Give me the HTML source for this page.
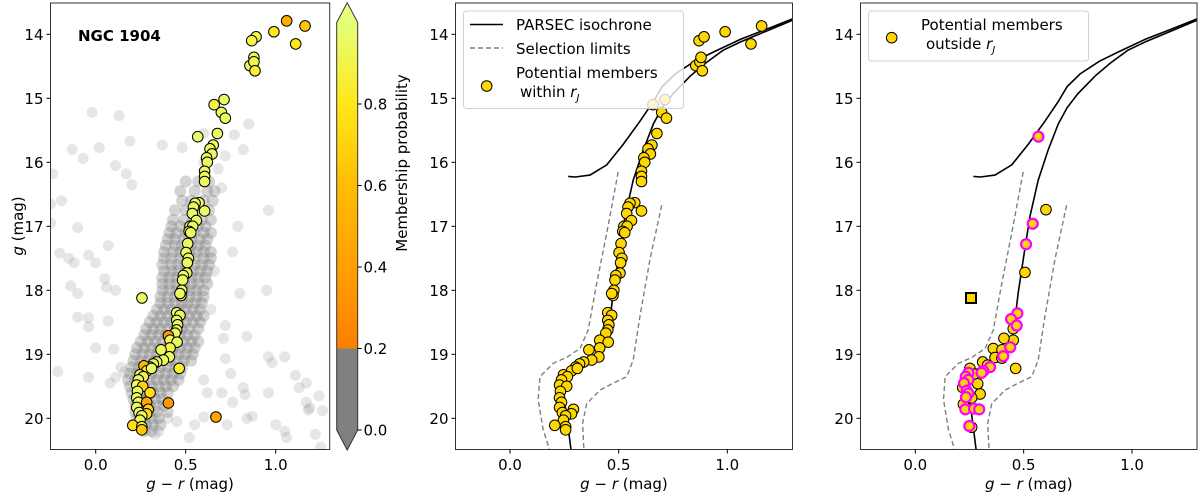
<!DOCTYPE html>
<html><head><meta charset="utf-8">
<style>
html,body{margin:0;padding:0;background:#fff;}
svg{display:block;font-family:"DejaVu Sans","Liberation Sans",sans-serif;}
</style></head>
<body>
<svg id="fig" width="1200" height="495" viewBox="0 0 1200 495" xmlns="http://www.w3.org/2000/svg">
<defs>
<linearGradient id="cbgrad" x1="0" y1="1" x2="0" y2="0">
<stop offset="0" stop-color="#fc7f00"/><stop offset="0.25" stop-color="#ffa000"/><stop offset="0.5" stop-color="#ffbd00"/><stop offset="0.75" stop-color="#ffe81a"/><stop offset="1" stop-color="#e4ff7a"/>
</linearGradient>
<clipPath id="c1"><rect x="50.5" y="3" width="280" height="446.5"/></clipPath>
<clipPath id="c2"><rect x="455.5" y="3" width="337" height="446.5"/></clipPath>
<clipPath id="c3"><rect x="860.5" y="3" width="337" height="446.5"/></clipPath>
</defs>
<g id="root"></g>
</svg>
<script>
// ---- data ----
const isoMainC=[0.281,0.261,0.238,0.245,0.291,0.337,0.391,0.429,0.452,0.475,0.503,0.529,0.567,0.613,0.66,0.70,0.75,0.83,0.90,0.98,1.06,1.18,1.30];
const isoMainG=[20.5,19.97,19.45,19.30,19.22,19.15,19.05,18.92,18.69,18.04,17.41,16.85,16.28,15.81,15.40,15.15,14.93,14.65,14.45,14.25,14.12,13.95,13.78];
const isoUpC=[0.268,0.30,0.368,0.445,0.521,0.598,0.66,0.70,0.76,0.85,0.94,1.06,1.18,1.30];
const isoUpG=[16.22,16.23,16.20,16.04,15.72,15.36,15.05,14.82,14.62,14.42,14.27,14.08,13.92,13.76];
const limLC=[0.498,0.445,0.399,0.360,0.322,0.260,0.199,0.138,0.130,0.153,0.181];
const limLG=[16.15,17.11,17.89,18.62,18.91,19.05,19.14,19.35,19.71,20.18,20.48];
const limRC=[0.698,0.644,0.598,0.567,0.537,0.47,0.414,0.353,0.334,0.34];
const limRG=[16.67,17.52,18.41,19.09,19.35,19.46,19.56,19.77,20.08,20.48];
const fieldC=[-0.02,0.13,-0.13,0.02,0.19,-0.07,-0.24,0.11,0.17,0.2,-0.25,-0.19,-0.1,-0.25,0.07,-0.2,-0.15,-0.12,-0.04,0.0,0.05,0.06,-0.14,-0.1,0.11,-0.1,-0.04,-0.04,0.07,0.0,0.1,-0.21,-0.04,0.08,0.11,0.14,0.16,0.37,0.48,0.6,0.77,0.82,0.72,0.85,0.6,0.96,0.79,0.76,0.8,0.95,0.84,0.72,0.71,0.96,0.98,1.05,1.11,1.13,1.17,0.96,0.82,0.83,0.76,1.17,1.19,1.24,1.26,1.18,0.87,0.84,0.73,1.0,1.05,1.06,1.22,1.25,0.6,0.55,0.45,0.7,0.75,0.72,0.6,0.62,0.35,0.33,0.52,0.4,0.68,0.7,0.66,0.64];
const fieldG=[15.22,15.27,15.8,15.77,15.67,15.94,16.18,16.05,16.18,16.35,16.65,16.6,17.02,16.95,17.3,17.42,17.5,17.57,17.45,17.57,17.82,17.95,17.93,18.05,18.0,18.42,18.43,18.57,18.48,18.9,18.92,19.27,19.36,19.45,19.36,19.2,19.28,15.73,15.77,15.55,15.57,15.8,15.9,15.4,16.0,16.75,17.0,17.4,18.05,18.0,18.72,18.55,18.75,19.04,19.13,19.04,19.33,19.52,19.45,19.6,19.52,19.63,19.75,19.75,19.84,19.65,19.88,19.87,19.97,20.0,20.1,20.1,20.2,20.3,20.25,20.45,19.98,20.1,20.05,19.6,19.3,19.07,19.4,19.6,20.2,20.25,20.3,20.0,16.1,16.4,17.7,18.3];
const cloudRowsG=[16.3,16.45,16.6,16.75,16.9,17.0,17.1,17.2,17.3,17.4,17.5,17.6,17.7,17.8,17.9,18.0,18.1,18.2,18.3,18.4,18.5,18.6,18.7,18.8,18.9,19.0,19.1,19.2,19.3,19.4,19.5,19.6,19.7,19.8,19.9,20.0,20.1,20.2];
const cloudRowsC=[[0.5,0.57,0.63],[0.47,0.55,0.62,0.66],[0.48,0.53,0.6,0.65],[0.44,0.5,0.56,0.63],[0.43,0.49,0.54,0.59,0.64],[0.42,0.47,0.52,0.57,0.61],[0.41,0.45,0.5,0.55,0.6,0.64],[0.4,0.44,0.49,0.53,0.58,0.62],[0.39,0.44,0.48,0.53,0.57,0.61],[0.38,0.43,0.47,0.52,0.56,0.6,0.64],[0.38,0.42,0.47,0.51,0.55,0.6,0.64],[0.37,0.42,0.46,0.5,0.55,0.59,0.63],[0.38,0.42,0.46,0.5,0.54,0.58,0.62],[0.37,0.41,0.45,0.49,0.53,0.57,0.61],[0.37,0.41,0.45,0.49,0.53,0.57,0.62],[0.37,0.41,0.45,0.49,0.52,0.56,0.6],[0.36,0.4,0.44,0.48,0.52,0.56,0.6],[0.36,0.4,0.44,0.48,0.51,0.55,0.59],[0.34,0.38,0.42,0.46,0.5,0.54,0.58],[0.32,0.36,0.4,0.44,0.48,0.52,0.56,0.6],[0.3,0.34,0.38,0.42,0.46,0.5,0.54,0.58],[0.28,0.32,0.36,0.4,0.44,0.48,0.52,0.57],[0.27,0.31,0.35,0.39,0.43,0.47,0.51,0.55],[0.25,0.29,0.33,0.37,0.41,0.45,0.49,0.53,0.57],[0.23,0.27,0.31,0.35,0.39,0.43,0.47,0.51,0.55],[0.22,0.26,0.3,0.34,0.38,0.42,0.46,0.5,0.54],[0.21,0.25,0.29,0.33,0.37,0.41,0.45,0.49,0.53],[0.2,0.24,0.28,0.32,0.36,0.4,0.44,0.48],[0.19,0.23,0.27,0.31,0.35,0.39,0.43,0.47],[0.18,0.22,0.26,0.3,0.34,0.38,0.42,0.46],[0.19,0.23,0.27,0.31,0.35,0.39,0.43],[0.2,0.24,0.28,0.32,0.36,0.4],[0.21,0.25,0.29,0.33,0.37],[0.22,0.26,0.3,0.34,0.38],[0.22,0.26,0.3,0.34,0.4],[0.23,0.27,0.31,0.35],[0.24,0.28,0.32,0.36],[0.27,0.31]];
const memC=[1.061,1.163,0.99,1.111,0.891,0.867,0.857,0.879,0.879,0.885,0.713,0.658,0.698,0.72,0.676,0.567,0.653,0.635,0.646,0.616,0.62,0.605,0.605,0.605,0.574,0.552,0.543,0.605,0.537,0.559,0.524,0.539,0.519,0.528,0.511,0.502,0.515,0.509,0.506,0.487,0.483,0.478,0.474,0.468,0.257,0.45,0.468,0.45,0.455,0.45,0.441,0.404,0.413,0.452,0.413,0.363,0.409,0.376,0.339,0.32,0.302,0.268,0.283,0.31,0.464,0.246,0.264,0.237,0.228,0.261,0.302,0.232,0.228,0.237,0.283,0.228,0.292,0.241,0.283,0.256,0.246,0.206,0.256,0.256,0.404,0.668];
const memG=[13.79,13.87,13.96,14.15,14.04,14.1,14.49,14.36,14.43,14.57,15.02,15.1,15.22,15.31,15.55,15.6,15.73,15.79,15.87,15.93,16.0,16.14,16.22,16.3,16.63,16.64,16.7,16.76,16.8,16.91,17.0,17.0,17.08,17.1,17.27,17.41,17.5,17.57,17.73,17.77,17.84,18.0,18.08,18.05,18.12,18.35,18.39,18.47,18.54,18.62,18.67,18.71,18.78,18.81,18.9,18.93,19.04,19.09,19.12,19.15,19.2,19.18,19.26,19.22,19.22,19.32,19.35,19.4,19.48,19.5,19.6,19.58,19.68,19.75,19.75,19.83,19.86,19.91,19.93,19.96,20.03,20.11,20.13,20.18,19.76,19.98];
const memP=[0.5,0.65,0.8,0.8,0.9,0.9,0.95,0.92,0.92,0.85,0.95,0.9,0.95,0.95,0.95,0.97,0.95,0.95,0.95,0.95,0.95,0.95,0.95,0.95,0.95,0.95,0.95,0.95,0.95,0.95,0.95,0.95,0.95,0.95,0.95,0.95,0.95,0.95,0.95,0.95,0.95,0.95,0.95,0.95,0.95,0.95,0.95,0.95,0.95,0.95,0.95,0.4,0.95,0.95,0.9,0.95,0.95,0.95,0.95,0.95,0.9,0.55,0.85,0.95,0.85,0.95,0.9,0.95,0.95,0.7,0.75,0.95,0.95,0.95,0.45,0.95,0.7,0.95,0.75,0.95,0.95,0.75,0.9,0.65,0.35,0.45];
const inC=[1.158,0.99,1.109,0.87,0.893,0.855,0.874,0.879,0.885,0.713,0.658,0.698,0.72,0.676,0.653,0.635,0.646,0.616,0.62,0.605,0.605,0.605,0.574,0.552,0.543,0.605,0.537,0.559,0.524,0.539,0.519,0.528,0.511,0.502,0.515,0.509,0.506,0.487,0.483,0.478,0.474,0.468,0.45,0.468,0.45,0.455,0.45,0.441,0.413,0.452,0.413,0.363,0.409,0.376,0.339,0.32,0.302,0.283,0.31,0.246,0.264,0.237,0.228,0.261,0.232,0.228,0.237,0.228,0.292,0.241,0.283,0.256,0.246,0.206,0.256,0.256];
const inG=[13.87,13.96,14.15,14.1,14.04,14.49,14.43,14.36,14.57,15.02,15.1,15.22,15.31,15.55,15.73,15.79,15.87,15.93,16.0,16.14,16.22,16.3,16.63,16.64,16.7,16.76,16.8,16.91,17.0,17.0,17.08,17.1,17.27,17.41,17.5,17.57,17.73,17.77,17.84,18.0,18.08,18.05,18.35,18.39,18.47,18.54,18.62,18.67,18.78,18.81,18.9,18.93,19.04,19.09,19.12,19.15,19.2,19.26,19.22,19.32,19.35,19.4,19.48,19.5,19.58,19.68,19.75,19.83,19.86,19.91,19.93,19.96,20.03,20.11,20.13,20.18];
const outC=[0.603,0.506,0.452,0.452,0.409,0.36,0.40,0.368,0.40,0.311,0.334,0.463,0.252,0.271,0.288,0.299,0.219,0.26,0.222,0.26];
const outG=[16.74,17.72,18.6,18.78,18.75,18.91,18.93,19.05,19.06,19.12,19.17,19.22,19.22,19.31,19.46,19.62,19.52,19.68,19.78,20.14];
const outMagC=[0.568,0.542,0.511,0.471,0.442,0.468,0.438,0.406,0.345,0.314,0.306,0.245,0.233,0.245,0.225,0.237,0.245,0.234,0.231,0.271,0.295,0.249];
const outMagG=[15.6,16.96,17.28,18.36,18.45,18.55,18.89,19.03,19.2,19.26,19.29,19.29,19.35,19.4,19.45,19.57,19.61,19.67,19.86,19.85,19.86,20.12];
const outSqC=[0.257];
const outSqG=[18.12];
const xTicks=[0.0,0.5,1.0];
const xTickLabels=["0.0","0.5","1.0"];
const yTicks=[14,15,16,17,18,19,20];
const cbTicks=[0.0,0.2,0.4,0.6,0.8];
const cbTickLabels=["0.0","0.2","0.4","0.6","0.8"];

// ---- helpers ----
const NS="http://www.w3.org/2000/svg";
const root=document.getElementById('root');
function mk(tag,attrs,parent){const e=document.createElementNS(NS,tag);for(const k in attrs)e.setAttribute(k,attrs[k]);(parent||root).appendChild(e);return e;}
function panelScale(left,x0px,pxPerMag){return {x:c=>x0px+c*pxPerMag,y:g=>34.3+(g-14)*64,left:left,right:x0px+1.3*pxPerMag};}
const P1=panelScale(50.5,95.7,180), P2=panelScale(455.5,510,217.3), P3=panelScale(860.5,915.3,216.7);
function lerp(a,b,t){return a+(b-a)*t;}
function cmap(p){
  const stops=[[252,127,0],[255,160,0],[255,189,0],[255,232,26],[228,255,122]];
  let t=Math.max(0,Math.min(1,(p-0.2)/0.8))*4;let i=Math.min(3,Math.floor(t));let f=t-i;
  const a=stops[i],b=stops[i+1];
  return `rgb(${Math.round(lerp(a[0],b[0],f))},${Math.round(lerp(a[1],b[1],f))},${Math.round(lerp(a[2],b[2],f))})`;
}
function linePath(S,cs,gs){return cs.map((c,i)=>(i?'L':'M')+S.x(c).toFixed(1)+' '+S.y(gs[i]).toFixed(1)).join(' ');}

function axes(S,name,showYLabel){
  const g=mk('g',{});
  
  
  xTicks.forEach((t,i)=>{
    const x=S.x(t);
    mk('line',{x1:x,x2:x,y1:449.5,y2:453.5,stroke:'#000','stroke-width':1},g);
    const tx=mk('text',{x:x,y:470,'text-anchor':'middle','font-size':15,fill:'#000'},g);
    tx.textContent=xTickLabels[i];
    
    
  });
  yTicks.forEach(t=>{
    const y=S.y(t);
    mk('line',{x1:S.left-4,x2:S.left,y1:y,y2:y,stroke:'#000','stroke-width':1},g);
    const tx=mk('text',{x:S.left-7,y:y+5.5,'text-anchor':'end','font-size':15,fill:'#000'},g);
    tx.textContent=String(t);
    
    
  });
  const xl=mk('text',{x:(S.left+S.right)/2,y:489,'text-anchor':'middle','font-size':15,fill:'#000'},g);
  xl.innerHTML='<tspan font-style="italic">g</tspan> − <tspan font-style="italic">r</tspan> (mag)';
  
  
  if(showYLabel){
    const yl=mk('text',{x:0,y:0,transform:'translate(23,226) rotate(-90)','text-anchor':'middle','font-size':15,fill:'#000'},g);
    yl.innerHTML='<tspan font-style="italic">g</tspan> (mag)';
    
    
  }
}
function frame(S,name){
  const r=mk('rect',{x:S.left,y:3,width:S.right-S.left,height:446.5,fill:'none',stroke:'#333','stroke-width':1});
  
  
}
function isochrone(S,clip,name){
  const g=mk('g',{'clip-path':'url(#'+clip+')'});
  
  
  mk('path',{d:linePath(S,isoMainC,isoMainG),fill:'none',stroke:'#000','stroke-width':1.6},g);
  mk('path',{d:linePath(S,isoUpC,isoUpG),fill:'none',stroke:'#000','stroke-width':1.6},g);
  const l1=mk('path',{d:linePath(S,limLC,limLG),fill:'none',stroke:'#808080','stroke-width':1.4,'stroke-dasharray':'5,3'},g);
  
  
  const l2=mk('path',{d:linePath(S,limRC,limRG),fill:'none',stroke:'#808080','stroke-width':1.4,'stroke-dasharray':'5,3'},g);
  
  
}

// ---- panel 1 ----
{
  const S=P1;
  const g=mk('g',{'clip-path':'url(#c1)'});
  
  
  fieldC.forEach((c,i)=>{
    const e=mk('circle',{cx:S.x(c),cy:S.y(fieldG[i]),r:5.5,fill:'#808080','fill-opacity':0.2},g);
    
    
  });
  cloudRowsG.forEach((gg,j)=>cloudRowsC[j].forEach(c=>{
    const e=mk('circle',{cx:S.x(c),cy:S.y(gg),r:6,fill:'#808080','fill-opacity':0.34},g);
    
    
  }));
  memC.forEach((c,i)=>{
    const e=mk('circle',{cx:S.x(c),cy:S.y(memG[i]),r:5.3,fill:cmap(memP[i]),stroke:'#000','stroke-width':1},g);
    
    
  });
  frame(S,'panel1');
  axes(S,'panel1',true);
  const t=mk('text',{x:78,y:41,'font-size':15,'font-weight':'bold',fill:'#000'});
  t.textContent='NGC 1904';
  
  
  // colorbar
  const cb=mk('g',{});
  
  
  const cy=p=>430-p*407.5;
  mk('rect',{x:336.7,y:cy(1.0),width:21,height:cy(0.2)-cy(1.0),fill:'url(#cbgrad)'},cb);
  mk('rect',{x:336.7,y:cy(0.2),width:21,height:cy(0)-cy(0.2),fill:'#808080'},cb);
  mk('polygon',{points:`336.7,${cy(1.0)} 357.7,${cy(1.0)} 347.2,2.7`,fill:'#e4ff7a'},cb);
  mk('polygon',{points:`336.7,${cy(0)} 357.7,${cy(0)} 347.2,450`,fill:'#808080'},cb);
  mk('polygon',{points:`347.2,2.7 357.7,${cy(1.0)} 357.7,${cy(0)} 347.2,450 336.7,${cy(0)} 336.7,${cy(1.0)}`,fill:'none',stroke:'#333','stroke-width':1},cb);
  cbTicks.forEach((p,i)=>{
    mk('line',{x1:357.7,x2:361.7,y1:cy(p),y2:cy(p),stroke:'#000'},cb);
    const tx=mk('text',{x:363.5,y:cy(p)+5.5,'font-size':15,fill:'#000'},cb);
    tx.textContent=cbTickLabels[i];
    
    
  });
  const cl=mk('text',{x:0,y:0,transform:'translate(407,163) rotate(-90)','text-anchor':'middle','font-size':15,fill:'#000'},cb);
  cl.textContent='Membership probability';
  
  
}

// ---- panel 2 ----
{
  const S=P2;
  isochrone(S,'c2','panel2');
  const g=mk('g',{'clip-path':'url(#c2)'});
  
  
  inC.forEach((c,i)=>{
    const e=mk('circle',{cx:S.x(c),cy:S.y(inG[i]),r:5.3,fill:'#ffd700',stroke:'#000','stroke-width':1},g);
    
    
  });
  frame(S,'panel2');
  axes(S,'panel2',false);
  const lg=mk('g',{});
  
  
  mk('rect',{x:463.5,y:11,width:220,height:97.5,rx:3,fill:'#fff','fill-opacity':0.8,stroke:'#d0d0d0'},lg);
  mk('line',{x1:470,x2:503,y1:24.5,y2:24.5,stroke:'#000','stroke-width':1.6},lg);
  mk('line',{x1:470,x2:503,y1:48,y2:48,stroke:'#808080','stroke-width':1.4,'stroke-dasharray':'5,3'},lg);
  mk('circle',{cx:486.7,cy:86,r:5.3,fill:'#ffd700',stroke:'#000'},lg);
  const a=mk('text',{x:516,y:30,'font-size':15},lg);a.textContent='PARSEC isochrone';
  
  
  const b=mk('text',{x:516,y:54,'font-size':15},lg);b.textContent='Selection limits';
  
  
  const c=mk('text',{x:516,y:78,'font-size':15},lg);c.textContent='Potential members';
  
  
  const d=mk('text',{x:520,y:97,'font-size':15},lg);d.innerHTML='within <tspan font-style="italic">r</tspan><tspan font-style="italic" font-size="10" dy="4">J</tspan>';
}

// ---- panel 3 ----
{
  const S=P3;
  isochrone(S,'c3','panel3');
  const g=mk('g',{'clip-path':'url(#c3)'});
  
  
  outC.forEach((c,i)=>{
    const e=mk('circle',{cx:S.x(c),cy:S.y(outG[i]),r:5.3,fill:'#ffd700',stroke:'#000','stroke-width':1},g);
    
    
  });
  outMagC.forEach((c,i)=>{
    const e=mk('circle',{cx:S.x(c),cy:S.y(outMagG[i]),r:5,fill:'#ffd700',stroke:'#ff00ff','stroke-width':2.2},g);
    
    
  });
  outSqC.forEach((c,i)=>{
    const x=S.x(c),y=S.y(outSqG[i]);
    const e=mk('rect',{x:x-5,y:y-5,width:10,height:10,fill:'#ffd700',stroke:'#000','stroke-width':2},g);
    
    
  });
  frame(S,'panel3');
  axes(S,'panel3',false);
  const lg=mk('g',{});
  
  
  mk('rect',{x:868.5,y:11,width:220,height:50,rx:3,fill:'#fff','fill-opacity':0.8,stroke:'#d0d0d0'},lg);
  mk('circle',{cx:891.7,cy:37.7,r:5.3,fill:'#ffd700',stroke:'#000'},lg);
  const a=mk('text',{x:921,y:30,'font-size':15},lg);a.textContent='Potential members';
  
  
  const b=mk('text',{x:926,y:49,'font-size':15},lg);b.innerHTML='outside <tspan font-style="italic">r</tspan><tspan font-style="italic" font-size="10" dy="4">J</tspan>';
}
</script>
</body></html>
